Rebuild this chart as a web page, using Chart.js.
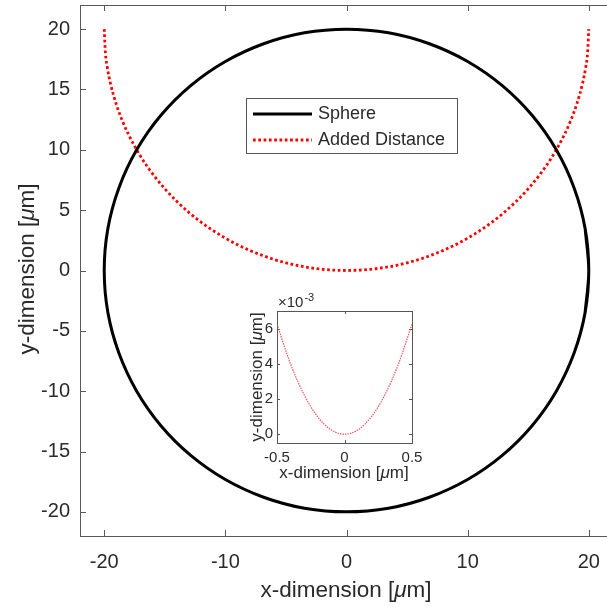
<!DOCTYPE html>
<html>
<head>
<meta charset="utf-8">
<script src="https://cdn.jsdelivr.net/npm/chart.js@4.4.1/dist/chart.umd.min.js"></script>
<style>
html, body { margin: 0; padding: 0; background: #fff; overflow: hidden; }
#wrap { position: relative; width: 620px; height: 607px; }
#main { position: absolute; left: 0; top: 0; width: 620px; height: 607px; }
#inset { position: absolute; left: 228px; top: 290px; width: 225px; height: 195px; }
</style>
</head>
<body>
<div id="wrap">
  <canvas id="main" width="620" height="607"></canvas>
  <canvas id="inset" width="225" height="195"></canvas>
</div>
<script>
// sphere outline (closed, first/last points overlap)
const sphereX = [19.7, 20, 19.7, 18.79, 17.32, 15.32, 12.86, 10, 6.84, 3.47, 0, -3.47, -6.84, -10, -12.86, -15.32, -17.32, -18.79, -19.7,
  -20, -19.7, -18.79, -17.32, -15.32, -12.86, -10, -6.84, -3.47, 0, 3.47, 6.84, 10, 12.86, 15.32, 17.32, 18.79, 19.7, 20, 19.7];
const sphereY = [-3.47, 0, 3.47, 6.84, 10, 12.86, 15.32, 17.32, 18.79, 19.7, 20, 19.7, 18.79, 17.32, 15.32, 12.86, 10, 6.84, 3.47,
  0, -3.47, -6.84, -10, -12.86, -15.32, -17.32, -18.79, -19.7, -20, -19.7, -18.79, -17.32, -15.32, -12.86, -10, -6.84, -3.47, 0, 3.47];

// added distance curve
const addedX = [-20, -19.9, -19.75, -19.5, -19, -18.5, -18, -17, -16, -15, -14, -13, -12, -11, -10, -9, -8, -7, -6, -5, -4, -3, -2, -1, 0,
  1, 2, 3, 4, 5, 6, 7, 8, 9, 10, 11, 12, 13, 14, 15, 16, 17, 18, 18.5, 19, 19.5, 19.75, 19.9, 20];
const addedY = [20, 18.0, 16.85, 15.56, 13.76, 12.4, 11.28, 9.46, 8.0, 6.77, 5.72, 4.8, 4.0, 3.3, 2.68, 2.14, 1.67, 1.27, 0.92, 0.64, 0.4, 0.23, 0.1, 0.03, 0,
  0.03, 0.1, 0.23, 0.4, 0.64, 0.92, 1.27, 1.67, 2.14, 2.68, 3.3, 4.0, 4.8, 5.72, 6.77, 8.0, 9.46, 11.28, 12.4, 13.76, 15.56, 16.85, 18.0, 20];

// inset (y in units of 1e-3)
const insetX = [-0.5, -0.4, -0.3, -0.2, -0.1, 0, 0.1, 0.2, 0.3, 0.4, 0.5];
const insetY = [6.25, 4.0, 2.25, 1.0, 0.25, 0, 0.25, 1.0, 2.25, 4.0, 6.25];

const xTicks = [-20, -10, 0, 10, 20];
const yTicks = [-20, -15, -10, -5, 0, 5, 10, 15, 20];
const insetXTicks = [-0.5, 0, 0.5];
const insetYTicks = [0, 2, 4, 6];

const FONT = '"Liberation Sans", Arial, Helvetica, sans-serif';
const TXT = '#2a2a2a';

function pts(xs, ys) {
    return xs.map((x, i) => ({x: x, y: ys[i]}));
}

// draw "x-dimension [μm]" with italic mu
function drawTitle(ctx, parts, cx, cy, size, rot) {
    ctx.save();
    ctx.translate(cx, cy);
    if (rot) ctx.rotate(-Math.PI / 2);
    ctx.fillStyle = TXT;
    ctx.textBaseline = 'middle';
    ctx.textAlign = 'left';
    let w = 0;
    parts.forEach(p => {
        ctx.font = (p[1] ? 'italic ' : '') + size + 'px ' + FONT;
        w += ctx.measureText(p[0]).width;
    });
    let x = -w / 2;
    parts.forEach(p => {
        ctx.font = (p[1] ? 'italic ' : '') + size + 'px ' + FONT;
        ctx.fillText(p[0], x, 0);
        x += ctx.measureText(p[0]).width;
    });
    ctx.restore();
}

const xParts = [['x-dimension [', false], ['\u03bc', true], ['m]', false]];
const yParts = [['y-dimension [', false], ['\u03bc', true], ['m]', false]];

// box + inward ticks, matlab style
const boxAxes = {
    id: 'boxAxes',
    beforeDatasetsDraw(chart, args, o) {
        const ctx = chart.ctx, a = chart.chartArea;
        const xs = chart.scales.x, ys = chart.scales.y;
        ctx.save();
        ctx.strokeStyle = o.color;
        ctx.lineWidth = 1;
        ctx.strokeRect(Math.round(a.left) + 0.5, Math.round(a.top) + 0.5, Math.round(a.right - a.left), Math.round(a.bottom - a.top));
        ctx.beginPath();
        xs.ticks.forEach(t => {
            const p = Math.round(xs.getPixelForValue(t.value)) + 0.5;
            ctx.moveTo(p, a.bottom); ctx.lineTo(p, a.bottom - o.len);
            ctx.moveTo(p, a.top); ctx.lineTo(p, a.top + o.len);
        });
        ys.ticks.forEach(t => {
            const p = Math.round(ys.getPixelForValue(t.value)) + 0.5;
            ctx.moveTo(a.left, p); ctx.lineTo(a.left + o.len, p);
            ctx.moveTo(a.right, p); ctx.lineTo(a.right - o.len, p);
        });
        ctx.stroke();
        ctx.restore();
    },
    afterDraw(chart, args, o) {
        const ctx = chart.ctx;
        drawTitle(ctx, xParts, o.xTitle[0], o.xTitle[1], o.titleSize, false);
        drawTitle(ctx, yParts, o.yTitle[0], o.yTitle[1], o.titleSize, true);
        if (o.exponent) {
            ctx.save();
            ctx.fillStyle = TXT;
            ctx.textBaseline = 'alphabetic';
            ctx.font = o.exponent.size + 'px ' + FONT;
            ctx.fillText('\u00d710', o.exponent.x, o.exponent.y);
            const w = ctx.measureText('\u00d710').width;
            ctx.font = Math.round(o.exponent.size * 0.72) + 'px ' + FONT;
            ctx.fillText('-3', o.exponent.x + w + 1, o.exponent.y - 6);
            ctx.restore();
        }
    }
};

// legend box inside the axes
const boxLegend = {
    id: 'boxLegend',
    afterDraw(chart, args, o) {
        if (!o.show) return;
        const ctx = chart.ctx;
        ctx.save();
        ctx.fillStyle = '#fff';
        ctx.fillRect(o.left, o.top, o.width, o.height);
        ctx.strokeStyle = '#555';
        ctx.lineWidth = 1;
        ctx.strokeRect(o.left + 0.5, o.top + 0.5, o.width, o.height);
        chart.data.datasets.forEach((ds, i) => {
            const y = o.top + 16 + i * 26;
            ctx.beginPath();
            ctx.strokeStyle = ds.borderColor;
            ctx.lineWidth = ds.borderWidth;
            ctx.setLineDash(ds.borderDash || []);
            ctx.moveTo(o.left + 7, y);
            ctx.lineTo(o.left + 66, y);
            ctx.stroke();
            ctx.setLineDash([]);
            ctx.fillStyle = TXT;
            ctx.font = '18px ' + FONT;
            ctx.textBaseline = 'middle';
            ctx.fillText(ds.label, o.left + 72, y);
        });
        ctx.restore();
    }
};

function scaleOpts(min, max, tickVals, size, pad, fit, isX) {
    return {
        type: 'linear',
        min: min,
        max: max,
        afterBuildTicks: s => { s.ticks = tickVals.map(v => ({value: v})); },
        afterFit: s => {
            if (isX) s.height = fit; else s.width = fit;
            // no extra room for label overhang
            s.paddingTop = 0; s.paddingBottom = 0; s.paddingLeft = 0; s.paddingRight = 0;
        },
        grid: {display: false, drawTicks: false},
        border: {display: false},
        ticks: {color: TXT, font: {family: FONT, size: size}, padding: pad}
    };
}

new Chart(document.getElementById('main').getContext('2d'), {
    type: 'scatter',
    data: {
        datasets: [{
            label: 'Sphere',
            data: pts(sphereX, sphereY),
            showLine: true,
            borderColor: '#000',
            borderWidth: 3,
            tension: 0.33,
            pointRadius: 0
        }, {
            label: 'Added Distance',
            data: pts(addedX, addedY),
            showLine: true,
            borderColor: '#ff0000',
            borderWidth: 2.8,
            borderDash: [2.7, 2.6],
            cubicInterpolationMode: 'monotone',
            pointRadius: 0
        }]
    },
    options: {
        responsive: false,
        animation: false,
        layout: {padding: {left: 0, right: 7, top: 5, bottom: 0}},
        scales: {
            x: scaleOpts(-22, 22, xTicks, 20, 14, 71, true),
            y: scaleOpts(-22, 22, yTicks, 20, 10, 80, false)
        },
        plugins: {
            legend: {display: false},
            tooltip: {enabled: false},
            boxAxes: {color: '#5a5a5a', len: 6, titleSize: 22.5, xTitle: [346, 591], yTitle: [28, 269]},
            boxLegend: {show: true, left: 246, top: 98, width: 211, height: 55}
        }
    },
    plugins: [boxAxes, boxLegend]
});

new Chart(document.getElementById('inset').getContext('2d'), {
    type: 'scatter',
    data: {
        datasets: [{
            label: 'Added Distance',
            data: pts(insetX, insetY),
            showLine: true,
            borderColor: 'rgba(235,60,60,0.85)',
            borderWidth: 1.2,
            borderDash: [1.5, 1],
            cubicInterpolationMode: 'monotone',
            pointRadius: 0
        }]
    },
    options: {
        responsive: false,
        animation: false,
        layout: {padding: {left: 0, right: 41, top: 21, bottom: 0}},
        scales: {
            x: scaleOpts(-0.5, 0.5, insetXTicks, 15, 6, 42, true),
            y: scaleOpts(-0.5, 7, insetYTicks, 15, 4, 49, false)
        },
        plugins: {
            legend: {display: false},
            tooltip: {enabled: false},
            boxAxes: {color: '#555', len: 3, titleSize: 17, xTitle: [116, 183], yTitle: [29, 87],
                exponent: {x: 50, y: 17, size: 15}},
            boxLegend: {show: false}
        }
    },
    plugins: [boxAxes, boxLegend]
});
</script>
</body>
</html>
